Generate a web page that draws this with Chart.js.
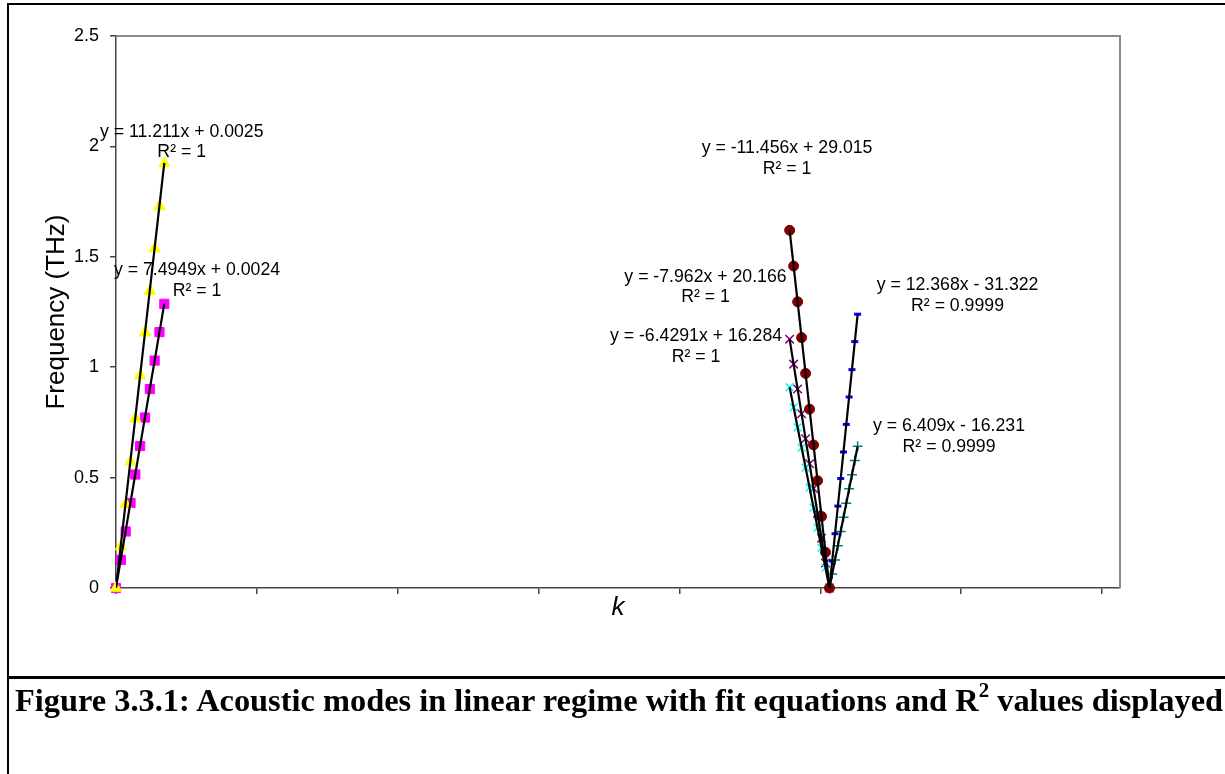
<!DOCTYPE html>
<html>
<head>
<meta charset="utf-8">
<title>Acoustic modes</title>
<script src="https://cdn.jsdelivr.net/npm/chart.js@4.4.1/dist/chart.umd.min.js"></script>
<style>
    html, body { margin: 0; padding: 0; background: #fff; }
    body { width: 1225px; height: 774px; position: relative; overflow: hidden; }
    #chartBox { position: absolute; left: 0; top: 0; width: 1225px; height: 676px; }
    .rule { position: absolute; background: #000; }
    #caption {
        position: absolute; left: 15px; top: 684px;
        font: bold 32.4px "Liberation Serif", "Times New Roman", serif;
        line-height: 32px; white-space: nowrap; color: #000;
    }
    #caption .sup { font-size: 21px; position: relative; top: -14px; }
</style>
</head>
<body>
<div id="chartBox"><canvas id="modeChart" width="1225" height="676"></canvas></div>
<div class="rule" style="left:7px; top:3px; width:1218px; height:2px;"></div>
<div class="rule" style="left:7px; top:3px; width:2px; height:771px;"></div>
<div class="rule" style="left:7px; top:676px; width:1218px; height:3px;"></div>
<div id="caption">Figure 3.3.1: Acoustic modes in linear regime with fit equations and R<span class="sup">2</span> values displayed</div>

<script>
// --- data ---

// k values (wave number) of each branch
const kLeft     = [0, 0.0172, 0.0343, 0.0515, 0.0686, 0.0858, 0.1029, 0.1201, 0.1372, 0.1544, 0.1715];
const kRightDn  = [2.3913, 2.4054, 2.4196, 2.4337, 2.4479, 2.4620, 2.4761, 2.4903, 2.5044, 2.5186, 2.5327];
const kRightUp  = [2.5325, 2.5425, 2.5525, 2.5625, 2.5725, 2.5825, 2.5925, 2.6025, 2.6125, 2.6225, 2.6325];

// frequencies (THz)
const freqYellow  = [0, 0.188, 0.380, 0.572, 0.767, 0.962, 1.156, 1.345, 1.538, 1.729, 1.923];
const freqMagenta = [0, 0.127, 0.256, 0.385, 0.514, 0.643, 0.772, 0.901, 1.030, 1.159, 1.287];
const freqDarkRed = [1.620, 1.458, 1.296, 1.134, 0.972, 0.810, 0.648, 0.486, 0.324, 0.162, 0];
const freqPurple  = [1.127, 1.014, 0.901, 0.789, 0.676, 0.563, 0.451, 0.338, 0.225, 0.113, 0];
const freqCyan    = [0.909, 0.818, 0.727, 0.636, 0.545, 0.455, 0.364, 0.273, 0.182, 0.091, 0];
const freqBlue    = [0, 0.122, 0.246, 0.371, 0.496, 0.616, 0.741, 0.865, 0.989, 1.116, 1.240];
const freqTeal    = [0, 0.063, 0.127, 0.191, 0.256, 0.320, 0.384, 0.449, 0.513, 0.578, 0.642];

// black trend lines, end points [k0, k1] / [f0, f1]
const trendK = [[0, 0.1715], [0, 0.1715], [2.3913, 2.5327], [2.3913, 2.5327], [2.3913, 2.5327], [2.5325, 2.6325], [2.5325, 2.6325]];
const trendF = [[0.0025, 1.925], [0.0024, 1.288], [1.620, 0], [1.126, 0], [0.909, 0], [0, 1.237], [0, 0.641]];

// fit equations and where they sit (data units, first line centre)
const fitEquations = [
    'y = 11.211x + 0.0025', 'y = 7.4949x + 0.0024', 'y = -11.456x + 29.015',
    'y = -7.962x + 20.166', 'y = -6.4291x + 16.284', 'y = 12.368x - 31.322', 'y = 6.409x - 16.231'
];
const fitR2  = ['R² = 1', 'R² = 1', 'R² = 1', 'R² = 1', 'R² = 1', 'R² = 0.9999', 'R² = 0.9999'];
const labelK = [0.2332, 0.2875, 2.3820, 2.0926, 2.0589, 2.9872, 2.9571];
const labelF = [2.066, 1.438, 1.992, 1.409, 1.139, 1.371, 0.731];

// axis ticks
const yTickLabels = ['0', '0.5', '1', '1.5', '2', '2.5'];

const FONT = '"Liberation Sans", Arial, sans-serif';

function pts(ks, fs) {
    return ks.map((k, i) => ({ x: k, y: fs[i] }));
}

function markerSet(label, ks, fs, color, style, radius, width) {
    return {
        label: label,
        data: pts(ks, fs),
        showLine: false,
        clip: false,
        pointStyle: style,
        pointRadius: radius,
        pointBackgroundColor: color,
        pointBorderColor: color,
        pointBorderWidth: width,
        order: 2
    };
}

// datasets: earlier ones end up on top; trend lines (order 1) over all markers
const datasets = [
    markerSet('yellow', kLeft, freqYellow, '#FFFF00', 'triangle', 6.5, 1),
    markerSet('magenta', kLeft, freqMagenta, '#FF00FF', 'rect', 6.5, 1),
    markerSet('darkred', kRightDn, freqDarkRed, '#800000', 'circle', 5, 1),
    markerSet('blue', kRightUp, freqBlue, '#0000FF', 'line', 3.5, 3),
    markerSet('cyan', kRightDn, freqCyan, '#00FFFF', 'crossRot', 5.5, 1.5),
    markerSet('purple', kRightDn, freqPurple, '#800080', 'crossRot', 6, 1.5),
    markerSet('teal', kRightUp, freqTeal, '#008080', 'cross', 5, 1.5)
];
trendK.forEach((ks, i) => {
    datasets.push({
        label: 'fit ' + i,
        data: pts(ks, trendF[i]),
        showLine: true,
        borderColor: '#000',
        borderWidth: 2.2,
        pointRadius: 0,
        order: 1
    });
});

// gray frame on top/right of plot area
const plotFrame = {
    id: 'plotFrame',
    beforeDatasetsDraw(chart) {
        const { ctx, chartArea: a } = chart;
        ctx.save();
        ctx.strokeStyle = '#8c8c8c';
        ctx.lineWidth = 2;
        ctx.beginPath();
        ctx.moveTo(a.left, a.top);
        ctx.lineTo(a.right, a.top);
        ctx.lineTo(a.right, a.bottom);
        ctx.stroke();
        ctx.restore();
    }
};

// equation + R² text next to each branch
const fitLabels = {
    id: 'fitLabels',
    afterDatasetsDraw(chart) {
        const { ctx } = chart;
        const xs = chart.scales.x, ys = chart.scales.y;
        ctx.save();
        ctx.font = '17.7px ' + FONT;
        ctx.fillStyle = '#000';
        ctx.textAlign = 'center';
        ctx.textBaseline = 'middle';
        fitEquations.forEach((eq, i) => {
            const px = xs.getPixelForValue(labelK[i]);
            const py = ys.getPixelForValue(labelF[i]);
            ctx.fillText(eq, px, py);
            ctx.fillText(fitR2[i], px, py + 20.5);
        });
        ctx.restore();
    }
};

const ctx = document.getElementById('modeChart').getContext('2d');
new Chart(ctx, {
    type: 'scatter',
    data: { datasets: datasets },
    options: {
        responsive: false,
        devicePixelRatio: 1,
        animation: false,
        events: [],
        layout: { padding: { top: 36, right: 105, bottom: 52, left: 0 } },
        plugins: { legend: { display: false }, tooltip: { enabled: false } },
        scales: {
            x: {
                type: 'linear',
                min: 0,
                max: 3.564,
                afterFit: (s) => { s.height = 36; },
                ticks: { display: false, stepSize: 0.5, includeBounds: false },
                grid: { drawOnChartArea: false, drawTicks: true, tickLength: 6, tickColor: '#444', lineWidth: 1.5 },
                border: { display: true, color: '#444', width: 1.5 },
                title: {
                    display: true, text: 'k', color: '#000',
                    font: { family: FONT, size: 26, style: 'italic', lineHeight: 1 },
                    padding: { top: 0, bottom: 3.5 }
                }
            },
            y: {
                min: 0,
                max: 2.5,
                afterFit: (s) => { s.width = 116; },
                ticks: {
                    stepSize: 0.5,
                    padding: 11,
                    color: '#000',
                    font: { family: FONT, size: 18 },
                    callback: (v, i) => yTickLabels[i]
                },
                grid: { drawOnChartArea: false, drawTicks: true, tickLength: 6, tickColor: '#444', lineWidth: 1.5 },
                border: { display: true, color: '#444', width: 1.5 },
                title: {
                    display: true, text: 'Frequency (THz)', color: '#000',
                    font: { family: FONT, size: 26, lineHeight: 1 },
                    padding: { top: 44, bottom: 0 }
                }
            }
        }
    },
    plugins: [plotFrame, fitLabels]
});
</script>
</body>
</html>
